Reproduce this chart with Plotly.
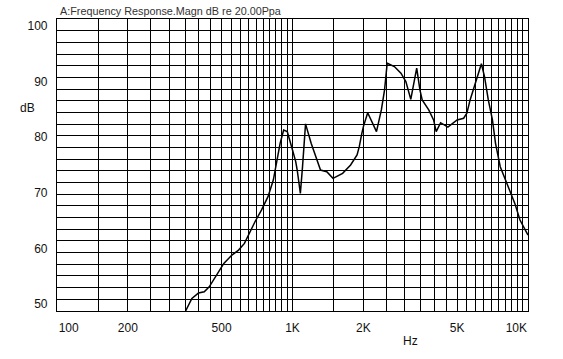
import plotly.graph_objects as go

# Curve (frequency in Hz, level in dB)
freq_hz = [352, 374, 399, 422, 443, 472, 511, 553, 590, 625,
           650, 693, 738, 787, 829, 858, 886, 917, 950, 1000,
           1032, 1047, 1080, 1103, 1136, 1200, 1268, 1315, 1398, 1486,
           1632, 1765, 1880, 1921, 1970, 2000, 2086, 2179, 2273, 2384,
           2460, 2524, 2707, 2887, 3029, 3179, 3281, 3368, 3476, 3554,
           3789, 3973, 4075, 4255, 4569, 4780, 5000, 5330, 5500, 5678,
           5959, 6341, 6536, 6783, 7063, 7279, 7623, 8124, 8790, 9247,
           10000]
level_db = [48.8, 51.0, 52.0, 52.2, 53.1, 54.9, 57.3, 58.8, 59.7, 60.9,
            62.4, 64.8, 66.9, 69.3, 72.3, 75.9, 78.9, 81.3, 81.0, 77.7,
            75.6, 74.1, 69.9, 74.7, 82.4, 78.9, 75.9, 74.1, 73.8, 72.6,
            73.5, 75.0, 76.8, 78.3, 80.7, 81.9, 84.4, 82.8, 81.0, 84.9,
            88.5, 93.3, 92.7, 91.5, 90.0, 86.8, 89.7, 92.4, 88.5, 86.7,
            84.9, 83.1, 81.0, 82.6, 81.8, 82.4, 83.1, 83.4, 84.3, 86.7,
            89.7, 93.2, 90.9, 86.7, 83.1, 78.9, 74.7, 71.7, 68.1, 65.1,
            62.4]

# Axis labels
x_label_vals = [100, 200, 500, 1000, 2000, 5000, 10000]
x_label_text = ["\u00a0" * 7 + "100", "200", "500", "1K", "2K", "5K", "10K" + "\u00a0" * 7]
y_label_vals = [50, 60, 70, 80, 90, 100]
y_label_text = ["50", "60", "70", "80", "90", "100"]

# Grid lines
x_grid = list(range(100, 1000, 50)) + list(range(1000, 10001, 500))
y_min, y_max = 48.75, 101.25
y_grid = [y_min + 2.1 * k for k in range(26)]

label_map = dict(zip(x_label_vals, x_label_text))
x_tick_text = [label_map.get(v, "") for v in x_grid]

FONT = "Liberation Sans, Arial, Helvetica, sans-serif"

fig = go.Figure()
fig.add_trace(go.Scatter(
    x=freq_hz, y=level_db, mode="lines",
    line=dict(color="#000000", width=1.5),
    hoverinfo="skip", showlegend=False,
))

fig.update_layout(
    width=563, height=359,
    margin=dict(l=57, r=35, t=19, b=48),
    paper_bgcolor="white", plot_bgcolor="white",
    font=dict(family=FONT, size=12, color="#111111"),
    showlegend=False,
    xaxis=dict(
        type="log", range=[2, 4],
        tickmode="array", tickvals=x_grid, ticktext=x_tick_text,
        showgrid=True, gridcolor="#000000", gridwidth=1,
        showline=True, mirror=True, linecolor="#000000", linewidth=1.2,
        ticks="", zeroline=False, ticklabelstandoff=5,
        tickfont=dict(family=FONT, size=12, color="#111111"),
    ),
    yaxis=dict(
        range=[y_min, y_max],
        tickmode="array", tickvals=y_label_vals, ticktext=y_label_text,
        showgrid=False,
        minor=dict(tickmode="array", tickvals=y_grid, showgrid=True,
                   gridcolor="#000000", gridwidth=1, ticks=""),
        showline=True, mirror=True, linecolor="#000000", linewidth=1.2,
        ticks="", zeroline=False, ticklabelstandoff=6,
        tickfont=dict(family=FONT, size=12, color="#111111"),
    ),
    annotations=[
        dict(text="A:Frequency Response.Magn dB re 20.00Ppa",
             xref="paper", yref="paper", x=0.0015, y=1.027,
             xanchor="left", yanchor="middle", showarrow=False,
             font=dict(family=FONT, size=10.8, color="#333333")),
        dict(text="dB", xref="paper", yref="paper", x=-0.062, y=0.6956,
             xanchor="center", yanchor="middle", showarrow=False,
             font=dict(family=FONT, size=12, color="#111111")),
        dict(text="Hz", xref="paper", yref="paper", x=0.751, y=-0.104,
             xanchor="center", yanchor="middle", showarrow=False,
             font=dict(family=FONT, size=12, color="#111111")),
    ],
)

fig.write_html(
    "out.html",
    config={"displayModeBar": False},
    post_script="document.body.style.margin='0';document.body.style.padding='0';",
)
